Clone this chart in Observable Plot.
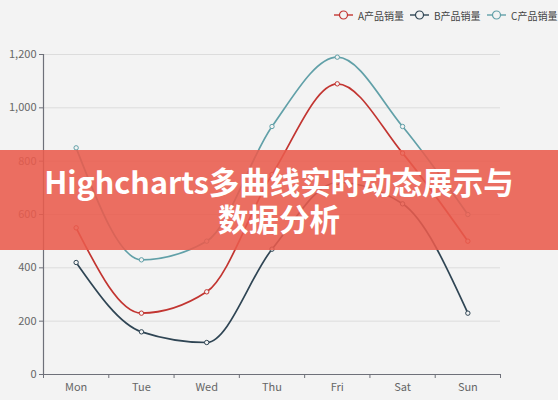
<!DOCTYPE html>
<html><head><meta charset="utf-8">
<script src="https://cdn.jsdelivr.net/npm/d3@7"></script>
<script src="https://cdn.jsdelivr.net/npm/@observablehq/plot@0.6"></script>
<style>
html,body{margin:0;padding:0;background:#f3f3f3;}
#wrap{position:relative;width:558px;height:400px;overflow:hidden;background:#f3f3f3;font-family:"Noto Sans CJK SC","Noto Sans",sans-serif;}
#legend{position:relative;height:30px;}
.item{position:absolute;top:6px;height:18px;display:flex;align-items:center;font-size:10px;color:#444;white-space:nowrap;}
.item svg{margin-right:5px;}
#banner{position:absolute;left:0;top:150px;width:558px;height:100px;background:rgba(233,91,76,0.88);color:#fff;font-weight:bold;font-size:30.5px;text-align:center;line-height:37px;display:flex;flex-direction:column;justify-content:center;}
#chart svg{display:block;}
</style></head>
<body>
<div id="wrap">
  <div id="legend"></div>
  <div id="chart"></div>
  <div id="banner"><div id="t1"></div><div id="t2"></div></div>
</div>
<script>
const days = ["Mon","Tue","Wed","Thu","Fri","Sat","Sun"];
const seriesNames = ["A产品销量","B产品销量","C产品销量"];
const seriesA = [550,230,310,750,1090,830,500];
const seriesB = [420,160,120,470,720,640,230];
const seriesC = [850,430,500,930,1190,930,600];
const seriesColors = ["#c23531","#2f4554","#61a0a8"];
const yTicks = [0,200,400,600,800,1000,1200];
const titleLines = ["Highcharts多曲线实时动态展示与","数据分析"];
const legendLefts = [334,410,487];

const allSeries = [seriesA, seriesB, seriesC];
const data = [];
allSeries.forEach((vals, s) => vals.forEach((v, i) => data.push({i, day: days[i], value: v, series: seriesNames[s]})));

const boundaries = d3.range(days.length + 1).map(k => k - 0.5);

const chart = Plot.plot({
  width: 558,
  height: 370,
  marginTop: 24,
  marginBottom: 26,
  marginLeft: 43,
  marginRight: 58,
  style: {background: "#f3f3f3", color: "#666", fontFamily: "'Noto Sans CJK SC','Noto Sans',sans-serif", fontSize: "11px"},
  x: {type: "linear", domain: [-0.5, days.length - 0.5], axis: null, label: null},
  y: {domain: [0, 1200], axis: null, label: null},
  color: {domain: seriesNames, range: seriesColors},
  marks: [
    Plot.gridY(yTicks.filter(d => d > 0), {stroke: "#dcdcdc", strokeOpacity: 1, strokeWidth: 1}),
    Plot.ruleX([-0.5], {y1: 0, y2: 1200, stroke: "#6e7079", strokeWidth: 1.2}),
    Plot.ruleY([0], {stroke: "#6e7079", strokeWidth: 1.2}),
    Plot.axisY(yTicks, {tickFormat: d3.format(","), tickSize: 4, tickPadding: 3, stroke: "#6e7079", fill: "#666", fontSize: 11, label: null}),
    Plot.axisX(boundaries, {tickFormat: () => "", tickSize: 4, stroke: "#6e7079", label: null}),
    Plot.axisX(d3.range(days.length), {tickFormat: i => days[i], tickSize: 0, tickPadding: 9, fill: "#666", fontSize: 11, label: null}),
    Plot.line(data, {x: "i", y: "value", z: "series", stroke: "series", curve: "monotone-x", strokeWidth: 1.7}),
    Plot.dot(data, {x: "i", y: "value", stroke: "series", fill: "#f3f3f3", r: 2.2, strokeWidth: 1})
  ]
});
document.getElementById("chart").appendChild(chart);

const legend = document.getElementById("legend");
seriesNames.forEach((name, s) => {
  const it = document.createElement("div");
  it.className = "item";
  it.style.left = legendLefts[s] + "px";
  const c = seriesColors[s];
  it.innerHTML = `<svg width="19" height="12"><line x1="0" y1="6" x2="19" y2="6" stroke="${c}" stroke-width="1.4"/><circle cx="9.5" cy="6" r="4" fill="#f3f3f3" stroke="${c}" stroke-width="1.2"/></svg><span>${name}</span>`;
  legend.appendChild(it);
});

document.getElementById("t1").textContent = titleLines[0];
document.getElementById("t2").textContent = titleLines[1];
</script>
</body></html>
